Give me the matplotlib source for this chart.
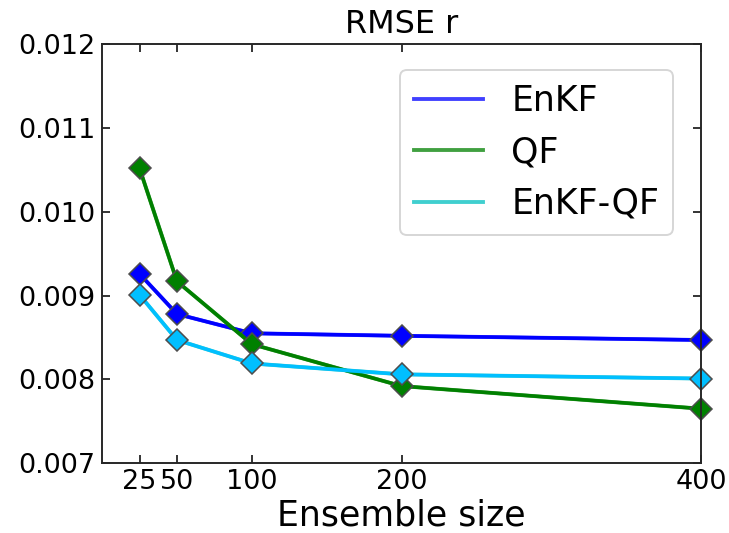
import matplotlib
matplotlib.use("Agg")
import matplotlib.pyplot as plt

# ensemble sizes and RMSE values
ens_size = [25, 50, 100, 200, 400]
rmse_enkf = [0.00926, 0.00878, 0.00855, 0.00852, 0.00847]
rmse_qf = [0.01052, 0.00917, 0.00842, 0.00792, 0.00765]
rmse_enkf_qf = [0.00901, 0.00847, 0.00819, 0.00806, 0.00801]

labels = ["EnKF", "QF", "EnKF-QF"]
line_colors = ["b", "g", "c"]
marker_colors = ["b", "g", "deepskyblue"]

dpi = 139
fig = plt.figure(figsize=(729 / dpi, 533 / dpi), dpi=dpi)
ax = fig.add_axes([0.140, 0.131, 0.822, 0.786])

for y, lab, lc, mc in zip([rmse_enkf, rmse_qf, rmse_enkf_qf], labels, line_colors, marker_colors):
    ax.plot(ens_size, y, color=lc, lw=2, alpha=0.75, label=lab)
    ax.plot(ens_size, y, "-D", color=mc, lw=1.8, markersize=8,
            markeredgecolor="0.3", markeredgewidth=0.8, clip_on=False)

ax.set_xlim(0, 400)
ax.set_ylim(0.007, 0.012)
ax.set_xticks(ens_size)
ax.set_yticks([0.007, 0.008, 0.009, 0.010, 0.011, 0.012])
ax.set_yticklabels(["0.007", "0.008", "0.009", "0.010", "0.011", "0.012"])
ax.tick_params(direction="in", top=True, right=True, length=4, labelsize=14)
ax.tick_params(axis="x", pad=3)
for s in ax.spines.values():
    s.set_linewidth(1.0)
    s.set_color("0.15")

ax.set_title("RMSE r", fontsize=16.5)
ax.set_xlabel("Ensemble size", fontsize=18, labelpad=2)
ax.legend(loc="upper right", bbox_to_anchor=(0.953, 0.938), borderaxespad=0,
          fontsize=18, fancybox=True, edgecolor="0.8", framealpha=0.8)

fig.savefig("out.png", dpi=dpi)
